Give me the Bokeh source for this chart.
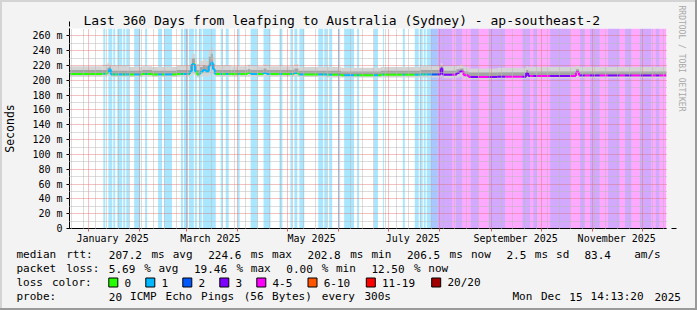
import re
import bisect
from bokeh.plotting import figure
from bokeh.layouts import column
from bokeh.models import Range1d, FixedTicker, Arrow, NormalHead, Title
from bokeh.core.properties import value
from bokeh.embed import file_html
from bokeh.resources import INLINE

# ---------------- data (x = days since Fri Dec 20 2024 14:13:20, 360 days) ----------------
month_start_days = [11.407, 42.407, 70.407, 101.407, 131.407, 162.407,
                    192.407, 223.407, 254.407, 284.407, 315.407, 345.407]
month_label_days = [26, 85, 146, 207, 269, 330]
month_labels = ["January 2025", "March 2025", "May 2025", "July 2025",
                "September 2025", "November 2025"]
sunday_days = [1.407 + 7 * k for k in range(52)]

y_ticks = [0, 20, 40, 60, 80, 100, 120, 140, 160, 180, 200, 220, 240, 260]
y_tick_labels = ["0", "20 m", "40 m", "60 m", "80 m", "100 m", "120 m", "140 m",
                 "160 m", "180 m", "200 m", "220 m", "240 m", "260 m"]
y_minor = [10, 30, 50, 70, 90, 110, 130, 150, 170, 190, 210, 230, 250, 270]

# median rtt (ms) as a step series: segment start day and value
med_start = [0, 19.8, 22.8, 24.0, 24.9, 34.8, 43.8, 49.8, 64.8, 72.6,
             73.8, 75.6, 76.8, 78.6, 80.4, 82.2, 84.0, 85.2, 86.4, 87.6,
             97.8, 107.4, 109.2, 117.0, 118.8, 135.6, 138.0, 154.8, 163.8, 187.8,
             211.8, 223.8, 225.0, 233.4, 235.2, 237.6, 240.6, 258.0, 275.4, 276.6,
             305.4, 307.2]
med_ms = [208.5, 209, 211, 215, 208, 208, 208.5, 208, 208.5, 212,
          222, 212, 208, 211, 214, 212, 220, 224, 215, 208.5,
          208.5, 210, 208.5, 210, 208.5, 210, 208, 207.5, 207, 207.5,
          208, 216, 207.5, 210, 212, 207, 204.5, 205, 210, 206,
          211, 206.5]
# smoke (ping spread) per segment: lowest ping, inner upper, highest ping (ms)
smoke_lo = [205, 205, 206, 206, 204.5, 204.5, 205, 204.5, 205, 206,
            208, 205, 204, 205, 206, 205, 208, 210, 206, 205,
            205, 205, 205, 205, 205, 205, 204.5, 204, 204, 204,
            204, 206, 203, 204, 205, 202, 201.5, 202, 203, 202.5,
            203, 203]
smoke_mid = [214, 214, 217, 219, 213, 213, 214, 213, 214, 220,
             230, 219, 214, 218, 220, 219, 232, 236, 222, 214,
             214, 215, 214, 216, 214, 216, 213, 213, 212, 213,
             214, 219, 213, 215, 216, 212, 210.5, 211, 214, 212,
             215, 212]
smoke_hi = [219, 221, 223, 224, 220, 218, 219, 218, 220, 228,
            236, 228, 222, 226, 228, 226, 240, 245, 232, 220,
            219, 221, 219, 222, 219, 222, 218, 218, 217, 218,
            219, 223, 219, 220, 221, 218, 216, 217, 219, 218,
            220, 218]

# loss background bands: start day, end day, loss class (1 -> "1", 2 -> "2", 3 -> "3", 4 -> "4-5")
band_start = [20.4, 23.4, 26.4, 28.8, 32.4, 34.2, 39.0, 45.6, 53.4, 57.0,
              67.2, 69.0, 72.0, 75.6, 78.0, 80.4, 91.2, 94.2, 101.4, 109.2,
              117.0, 126.6, 133.2, 135.6, 138.6, 150.0, 153.6, 156.6, 162.0, 165.6,
              173.4, 183.6, 189.0, 201.0, 208.2, 211.2, 213.6, 215.4, 217.8,
              222.0, 231.0, 232.8, 237.0, 241.8, 246.6, 252.6, 262.8, 273.0, 277.8,
              279.6, 282.0, 289.8, 301.8, 307.8, 310.8, 313.8, 319.8, 324.6, 331.8,
              334.8, 339.0, 343.8, 351.0, 353.4, 355.8]
band_end = [21.6, 25.8, 27.6, 31.8, 33.6, 36.0, 42.6, 46.8, 55.8, 61.8,
            68.4, 71.4, 75.0, 76.8, 79.8, 88.2, 92.4, 96.0, 102.6, 113.4,
            121.2, 128.4, 134.4, 137.4, 141.6, 153.0, 155.4, 158.4, 163.2, 171.6,
            174.6, 186.0, 189.6, 202.2, 210.6, 213.0, 214.8, 217.8, 222.0,
            231.0, 232.8, 237.0, 241.8, 246.6, 252.6, 262.8, 273.0, 277.8, 279.6,
            282.0, 289.8, 301.8, 307.8, 310.8, 313.8, 319.8, 324.6, 331.8, 334.8,
            339.0, 343.8, 351.0, 353.4, 355.8, 360.0]
band_loss = [1, 1, 1, 1, 1, 1, 1, 1, 1, 1,
             1, 1, 1, 1, 1, 1, 1, 1, 1, 1,
             1, 1, 1, 1, 1, 1, 1, 1, 1, 1,
             1, 1, 1, 1, 1, 1, 1, 1, 2,
             3, 4, 3, 4, 3, 4, 3, 4, 3, 4,
             3, 4, 3, 4, 3, 4, 3, 4, 3, 4,
             3, 4, 3, 4, 3, 4]

loss_names = ["0", "1", "2", "3", "4-5", "6-10", "11-19", "20/20"]
loss_colors = ["#26ff00", "#00b8ff", "#0059ff", "#7e00ff", "#ff00ff",
               "#ff5500", "#ff0000", "#a10000"]

title = "Last 360 Days from leafping to Australia (Sydney) - ap-southeast-2"
line_rtt = "median rtt:  207.2 ms avg  224.6 ms max  202.8 ms min  206.5 ms now  2.5 ms sd  83.4   am/s"
line_loss = "packet loss: 5.69 % avg  19.46 % max  0.00 % min  12.50 % now"
line_probe = "probe:       20 ICMP Echo Pings (56 Bytes) every 300s"
stamp = "Mon Dec 15 14:13:20 2025"

# ---------------- top figure: graph ----------------
FONT = "DejaVu Sans Mono"
BG = "#f3f3f3"
W = 697
TOP_H = 246
FL, FR, FT, FB = 67, 667, 28, 228

p = figure(width=W, height=TOP_H, output_backend="svg", toolbar_location=None,
           x_range=Range1d(0, 360), y_range=Range1d(0, 270),
           min_border_left=FL, min_border_right=W - FR,
           min_border_top=FT, min_border_bottom=TOP_H - FB,
           background_fill_color="white", border_fill_color=None)
p.outline_line_color = None
p.frame_align = False

# title
p.title.text = title
p.title.align = "left"
p.title.offset = 14
p.title.standoff = 2
p.title.text_font = FONT
p.title.text_font_size = "13px"
p.title.text_font_style = "normal"
p.title.text_color = "black"

# loss bands
p.quad(left=band_start, right=band_end, bottom=0, top=270,
       fill_color=[loss_colors[l] for l in band_loss], fill_alpha=0.34,
       line_color=None)

# smoke
seg_end = med_start[1:] + [360]
p.quad(left=med_start, right=seg_end, bottom=smoke_lo, top=smoke_hi,
       fill_color="#d4d4d4", line_color=None)
p.quad(left=med_start, right=seg_end, bottom=med_ms, top=smoke_mid,
       fill_color="#a4a4a4", line_color=None)

# median line coloured by loss
bounds = sorted(set([0.0, 360.0] + med_start + band_start + band_end))
xs0, ys0, xs1, ys1, cols = [], [], [], [], []
prev_y = None
for a, b in zip(bounds[:-1], bounds[1:]):
    mid = (a + b) / 2
    m = med_ms[bisect.bisect_right(med_start, mid) - 1]
    j = bisect.bisect_right(band_start, mid) - 1
    loss = band_loss[j] if (j >= 0 and mid < band_end[j]) else 0
    c = loss_colors[loss]
    if prev_y is not None and prev_y != m:
        xs0.append(a); ys0.append(prev_y); xs1.append(a); ys1.append(m); cols.append(c)
    xs0.append(a); ys0.append(m); xs1.append(b); ys1.append(m); cols.append(c)
    prev_y = m
p.segment(x0=xs0, y0=ys0, x1=xs1, y1=ys1, line_color=cols, line_width=2)

# axes
xa = p.xaxis[0]
xa.ticker = FixedTicker(ticks=month_label_days, minor_ticks=month_start_days)
xa.major_label_overrides = {d: t for d, t in zip(month_label_days, month_labels)}
xa.major_tick_out = 0
xa.major_tick_in = 0
xa.minor_tick_out = 3
xa.minor_tick_in = 0
xa.minor_tick_line_color = "#d06060"
xa.major_label_standoff = 1
xa.major_label_text_font = FONT
xa.major_label_text_font_size = "10px"
xa.major_label_text_color = "black"
xa.axis_line_color = "black"

ya = p.yaxis[0]
ya.ticker = FixedTicker(ticks=y_ticks, minor_ticks=y_minor)
ya.major_label_overrides = {v: t for v, t in zip(y_ticks, y_tick_labels)}
ya.major_tick_out = 3
ya.major_tick_in = 0
ya.minor_tick_out = 0
ya.minor_tick_in = 0
ya.major_tick_line_color = "black"
ya.major_label_standoff = 4
ya.major_label_text_font = FONT
ya.major_label_text_font_size = "10px"
ya.major_label_text_color = "black"
ya.axis_line_color = "black"
ya.axis_label = "Seconds"
ya.axis_label_text_font = FONT
ya.axis_label_text_font_size = "11.5px"
ya.axis_label_text_font_style = "normal"
ya.axis_label_text_color = "black"
ya.axis_label_standoff = 12

# grid
p.xgrid.ticker = FixedTicker(ticks=month_start_days, minor_ticks=sunday_days)
p.ygrid.ticker = FixedTicker(ticks=y_ticks, minor_ticks=y_minor)
for g in (p.xgrid[0], p.ygrid[0]):
    g.grid_line_color = "#e07070"
    g.grid_line_dash = "1 1"
    g.grid_line_alpha = 0.85
    g.minor_grid_line_color = "#b8b8b8"
    g.minor_grid_line_dash = "1 1"
    g.level = "overlay"

# axis arrows
head_col = "#8b1a1a"
p.add_layout(Arrow(x_start=0, y_start=0, x_end=0, y_end=FB - 21,
                   start_units="screen", end_units="screen", line_color="black",
                   line_width=1, start=None,
                   end=NormalHead(size=5, fill_color=head_col, line_color=head_col)))
p.add_layout(Arrow(x_start=0, y_start=0, x_end=674 - FL, y_end=0,
                   start_units="screen", end_units="screen", line_color="black",
                   line_width=1, start=None,
                   end=NormalHead(size=5, fill_color=head_col, line_color=head_col)))

# watermark on the right
wm = Title(text="RRDTOOL / TOBI OETIKER", align="left", offset=-23, standoff=20,
           text_font=FONT, text_font_size="8px", text_font_style="normal",
           text_color="#a8a8a8")
p.add_layout(wm, "right")

# ---------------- bottom figure: legend text ----------------
BOT_H = 310 - TOP_H
q = figure(width=W, height=BOT_H, output_backend="svg", toolbar_location=None,
           x_range=Range1d(0, W), y_range=Range1d(310, TOP_H),
           min_border=0, min_border_left=0, min_border_right=0,
           min_border_top=0, min_border_bottom=0,
           x_axis_location=None, y_axis_location=None,
           background_fill_color=None, border_fill_color=None)
q.outline_line_color = None
q.grid.visible = False
q.frame_align = False

CW = 7.1   # legend column width in px
tx, ty, tt = [], [], []


def tokens(line, X0, Y):
    for m in re.finditer(r"\S+", line):
        tx.append(X0 + m.start() * CW)
        ty.append(Y)
        tt.append(m.group(0))


tokens(line_rtt, 16, 254)
tokens(line_loss, 16, 268)
tokens("loss color:", 16, 282)
bl, br = [], []
bx = 16 + 13 * CW
for name in loss_names:
    bl.append(bx)
    br.append(bx + 9)
    lx = bx + 15.7
    tx.append(lx); ty.append(282); tt.append(name)
    bx = lx + (len(name) + 2) * CW
tokens(line_probe, 16, 296)
tokens(stamp, 512, 296)

q.quad(left=bl, right=br, top=277.5, bottom=286.5, fill_color=loss_colors,
       line_color="black", line_width=1)
q.text(x=tx, y=ty, text=tt, text_font=value(FONT), text_font_size="11px",
       text_baseline="middle", text_align="left", text_color="black")

layout = column(p, q, spacing=0,
                styles={"background-color": BG,
                        "box-shadow": "inset -2px -2px 0 #9a9a9a, inset 2px 2px 0 #d4d4d4"})
open("out.html", "w").write(file_html(layout, INLINE))
